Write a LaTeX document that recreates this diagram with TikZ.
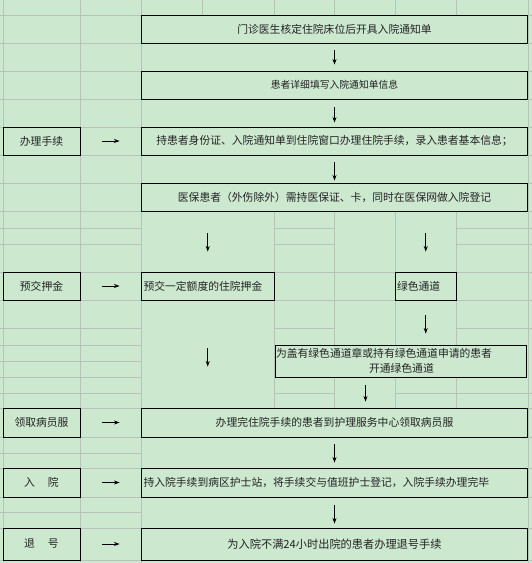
\documentclass[tikz,border=0pt]{standalone}
\usepackage{fontspec}
\setmainfont{Noto Sans CJK SC}
\usetikzlibrary{arrows.meta,positioning,calc}
\definecolor{sheetbg}{RGB}{204,232,207}
\definecolor{gridcol}{RGB}{184,194,186}
\definecolor{txtcol}{RGB}{35,35,35}
\tikzset{
  stepbox/.style ={draw=black, line width=0.9pt, fill=sheetbg, minimum height=28pt,
                   inner sep=2pt, text=txtcol, font=\fontsize{10.8}{13}\selectfont},
  labbox/.style  ={stepbox, minimum width=77pt},
  widebox/.style ={stepbox, minimum width=386pt},
  leftbox/.style ={stepbox, text width=#1, align=left},
  flowarr/.style ={-{Stealth[length=5.5pt,width=4pt]}, line width=0.8pt},
  gridln/.style  ={draw=gridcol, line width=0.6pt},
}

\begin{document}
\begin{tikzpicture}[x=1pt, y=-1pt]
\useasboundingbox (0,0) rectangle (532,563);
%% Sheet background and grid
\fill[sheetbg] (0,0) rectangle (532,563);
\foreach \y in {15,43,71,99,127,155,183,211,272,300,408,437,468,497,528,560}
  \draw[gridln] (0,\y) -- (532,\y);
\foreach \y in {228,244,328,345,361,377,393,453,512}
  \draw[gridln] (0,\y) -- (141.5,\y);
\foreach \y in {228,244,328}
  {\draw[gridln] (274,\y) -- (334,\y); \draw[gridln] (456.5,\y) -- (532,\y);}
\draw[gridln] (274,393) -- (334,393);
\draw[gridln] (395,393) -- (532,393);
\foreach \x in {3,80,141.5,528}
  \draw[gridln] (\x,0) -- (\x,563);
\foreach \x in {202.5,274,334,395,456.5}
  \draw[gridln] (\x,0) -- (\x,15);
\foreach \x in {274,334,395,456.5}
  \draw[gridln] (\x,211) -- (\x,408);

%% Main chain
\node[widebox] (b1) at (334.5,29) {门诊医生核定住院床位后开具入院通知单};
\node[widebox, font=\fontsize{9.8}{12}\selectfont] (b2) at (334.5,85)
  {患者详细填写入院通知单信息};
\node[widebox] (b3) at (334.5,141)
  {持患者身份证、入院通知单到住院窗口办理住院手续，录入患者基本信息；};
\node[widebox] (b4) at (334.5,197)
  {医保患者（外伤除外）需持医保证、卡，同时在医保网做入院登记};

\node[leftbox=128.5pt] (dep) at (207.75,286) {预交一定额度的住院押金};
\node[leftbox=57.5pt] (green) at (425.75,286) {绿色通道};
\node[leftbox=249.5pt, minimum height=32pt, inner sep=1pt,
      font=\fontsize{10.8}{14.5}\selectfont] (chan) at (400.75,361)
  {为盖有绿色通道章或持有绿色通道申请的患者\\\hspace*{93pt}开通绿色通道};
\coordinate (chanout) at (365.5,377);

\node[widebox, minimum height=29pt] (b5) at (334.5,422.5)
  {办理完住院手续的患者到护理服务中心领取病员服};
\node[leftbox=382pt, minimum height=29pt] (b6) at (334.5,482.5)
  {持入院手续到病区护士站，将手续交与值班护士登记，入院手续办理完毕};
\node[widebox, minimum height=32pt, font=\fontsize{11.2}{13}\selectfont] (b7) at (334.5,544)
  {为入院不满24小时出院的患者办理退号手续};

%% Step labels
\node[labbox] (lab1) at (41.5,141) {办理手续};
\node[labbox] (lab2) at (41.5,286) {预交押金};
\node[labbox, minimum height=29pt] (lab3) at (41.5,422.5) {领取病员服};
\node[labbox, minimum height=29pt] (lab4) at (41.5,482.5) {入\hspace{1.2em}院};
\node[labbox, minimum height=32pt] (lab5) at (41.5,544) {退\hspace{1.2em}号};

%% Down arrows
\draw[flowarr, shorten <=7pt, shorten >=6pt] (b1) -- (b2);
\draw[flowarr, shorten <=8pt, shorten >=4pt] (b2) -- (b3);
\draw[flowarr, shorten <=7pt, shorten >=2pt] (b3) -- (b4);
\draw[flowarr, shorten <=22pt, shorten >=20pt] (b4.south -| dep.north) -- (dep.north);
\draw[flowarr, shorten <=22pt, shorten >=20pt] (b4.south -| green.north) -- (green.north);
\draw[flowarr, shorten <=15pt, shorten >=11pt] (green.south) -- (green.south |- chan.north);
\draw[flowarr, shorten <=48pt, shorten >=41pt] (dep.south) -- (dep.south |- b5.north);
\draw[flowarr, shorten <=8pt, shorten >=6pt] (chanout) -- (chanout |- b5.north);
\draw[flowarr, shorten <=7pt, shorten >=5pt] (b5) -- (b6);
\draw[flowarr, shorten <=8pt, shorten >=4pt] (b6) -- (b7);

%% Label arrows
\foreach \l/\b in {lab1/b3,lab2/dep,lab3/b5,lab4/b6,lab5/b7}
  \draw[flowarr, shorten <=21.5pt, shorten >=21.5pt] (\l.east) -- (\l.east -| \b.west);

\end{tikzpicture}
\end{document}
